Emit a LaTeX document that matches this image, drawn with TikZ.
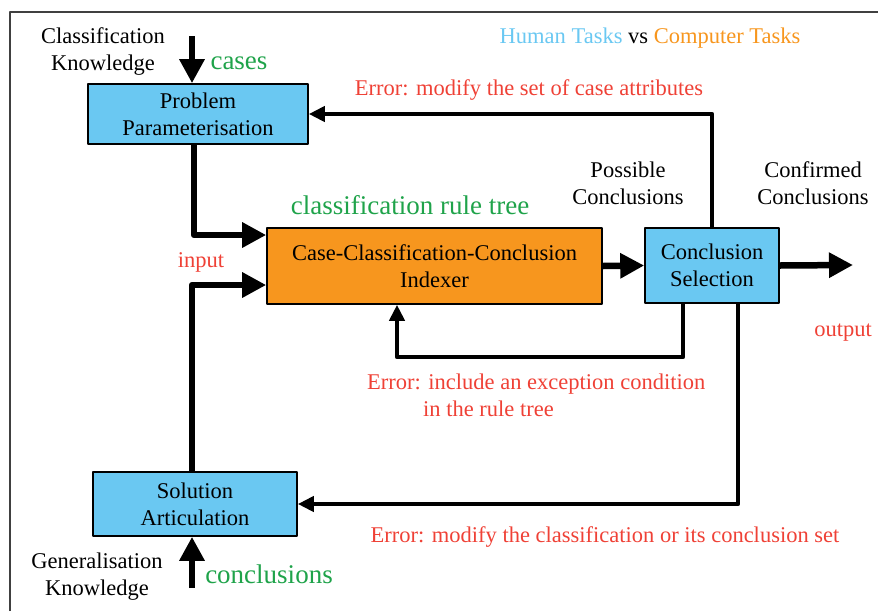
\documentclass[tikz,border=0pt]{standalone}
\usepackage{fontspec}
\setmainfont{LiberationSerif}[Extension = .ttf, UprightFont = *-Regular, BoldFont = *-Bold]
\usetikzlibrary{arrows.meta}
\definecolor{taskblue}{HTML}{6AC8F2}
\definecolor{taskorange}{HTML}{F7961E}
\definecolor{errred}{HTML}{EF4136}
\definecolor{datagreen}{HTML}{1FA34A}
\begin{document}
\begin{tikzpicture}[x=1pt, y=-1pt, line join = round,
	box/.style = {draw, line width = 1.6pt, align = center, inner sep = 0pt, font = \fontsize{22.5}{27}\selectfont},
	txt/.style = {align = center, inner sep = 0pt, font = \fontsize{22.5}{27}\selectfont},
	err/.style = {txt, text = errred},
	data/.style = {inner sep = 0pt, text = datagreen, font = \fontsize{27}{30}\selectfont},
	bigarrow/.style = {line width = 6.5pt, -{Triangle[length=24pt, width=24pt]}},
	fbarrow/.style = {line width = 4.5pt, -{Triangle[length=16pt, width=15pt]}}]
	\useasboundingbox (0,0) rectangle (878,611);
	\draw[black!75, line width = 1.2pt] (10,611) -- (10,12) -- (878,12);
	\node[box, fill = taskblue, minimum width = 220pt, minimum height = 60pt] (prob) at (198,114) {Problem\\Parameterisation};
	\node[box, fill = taskorange, minimum width = 335pt, minimum height = 76pt] (idx) at (434.5,266) {Case-Classification-Conclusion\\Indexer};
	\node[box, fill = taskblue, minimum width = 134pt, minimum height = 75pt] (sel) at (712,265.5) {Conclusion\\Selection};
	\node[box, fill = taskblue, minimum width = 204pt, minimum height = 64pt] (sol) at (195,504) {Solution\\Articulation};
	\node[txt] (ck) at (103,52) {Classification\\Knowledge};
	\node[txt] (gk) at (97,577) {Generalisation\\Knowledge};
	\node[txt] (pc) at (628,183) {Possible\\Conclusions};
	\node[txt] (cc) at (813,183) {Confirmed\\Conclusions};
	\node[txt] (title) at (650,38) {\textcolor{taskblue}{Human Tasks} vs \textcolor{taskorange}{Computer Tasks}};
	\node[data] (cases) at (239,63) {cases};
	\node[data] (tree) at (410,205) {classification rule tree};
	\node[data] (concl) at (269,574) {conclusions};
	\node[err] (input) at (201,262) {input};
	\node[err] (output) at (843,333) {output};
	\node[err] (err1) at (529,90) {Error: modify the set of case attributes};
	\node[err, anchor = west, align = left] (err2) at (367,395) {Error: include an exception condition\\\hspace*{56pt}in the rule tree};
	\node[err] (err3) at (605,537) {Error: modify the classification or its conclusion set};
	\coordinate (cktop) at (192,36);
	\coordinate (gkbot) at (192,588);
	\coordinate (out) at (853,265);
	\coordinate (exc) at (397,357);
	\draw[bigarrow] (cktop) -- (cktop |- prob.north);
	\draw[bigarrow] ([xshift=-4pt]prob.south) |- ([yshift=31pt]idx.west);
	\draw[bigarrow] ([xshift=-3pt]sol.north) |- ([yshift=-19pt]idx.west);
	\draw[bigarrow] (gkbot) -- (gkbot |- sol.south);
	\draw[bigarrow] (idx.east) -- (sel.west);
	\draw[bigarrow] (sel.east) -- (out);
	\draw[fbarrow] (sel.north) |- (prob.east);
	\draw[fbarrow] ([xshift=-29pt]sel.south) |- (exc) -- (exc |- idx.south);
	\draw[fbarrow] ([xshift=26pt]sel.south) |- (sol.east);
\end{tikzpicture}
\end{document}
